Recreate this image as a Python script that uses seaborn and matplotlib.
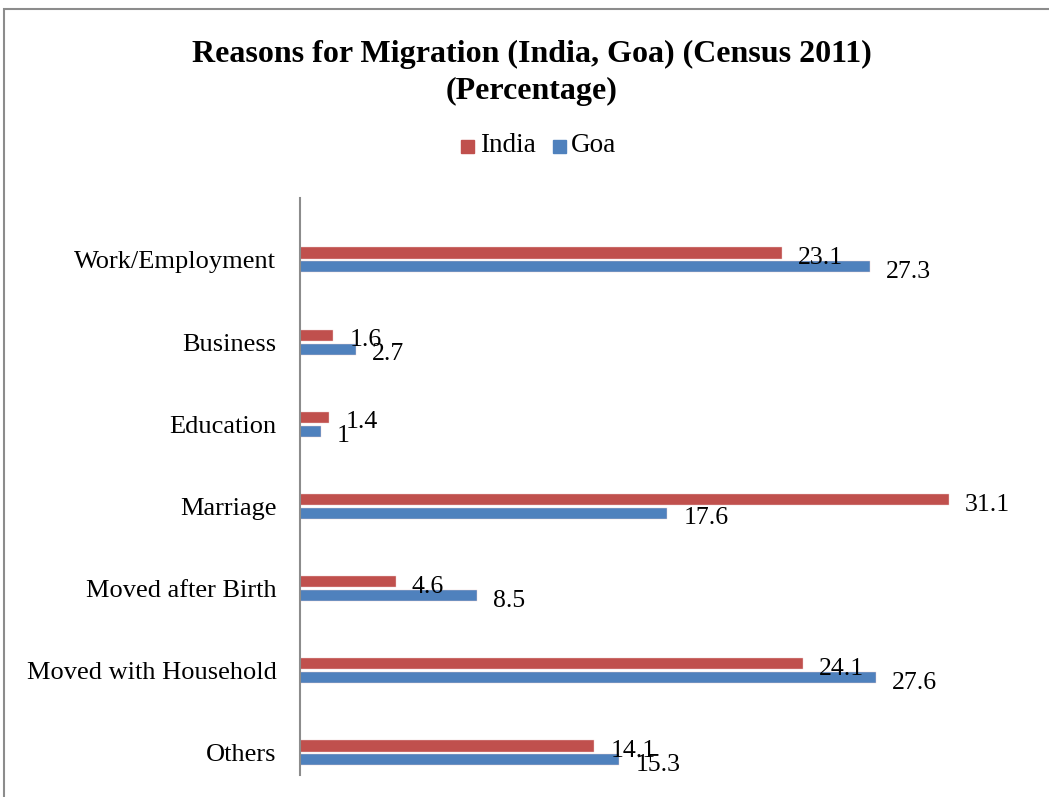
import pandas as pd
import matplotlib.pyplot as plt
import seaborn as sns
from matplotlib.patches import Rectangle

# Chart data
reasons = ['Work/Employment', 'Business', 'Education', 'Marriage',
           'Moved after Birth', 'Moved with Household', 'Others']
india = [23.1, 1.6, 1.4, 31.1, 4.6, 24.1, 14.1]
goa = [27.3, 2.7, 1, 17.6, 8.5, 27.6, 15.3]

red = '#C0504D'
blue = '#4F81BD'

df = pd.DataFrame({
    'Reason': reasons * 2,
    'Value': india + goa,
    'Region': ['India'] * len(reasons) + ['Goa'] * len(reasons),
})

sns.set_style('white')
plt.rcParams['font.family'] = ['Liberation Serif', 'DejaVu Serif']
plt.rcParams['text.color'] = 'black'
plt.rcParams['ytick.color'] = 'black'

W, H = 1049, 797
fig = plt.figure(figsize=(W / 100, H / 100), dpi=100)
ax = fig.add_axes([300 / W, (H - 775) / H, (1040 - 300) / W, (775 - 198) / H])

sns.barplot(data=df, y='Reason', x='Value', hue='Region', orient='h',
            palette={'India': red, 'Goa': blue}, saturation=1,
            width=0.34, gap=0.21, ax=ax, legend=False,
            edgecolor='#f0d0d0', linewidth=0.3)

ax.set_xlim(0, 35.46)
ax.set_ylim(6.268, -0.7545)

# value labels
for cont in ax.containers:
    for bar, v in zip(cont, cont.datavalues):
        ax.annotate(f'{v:g}', (bar.get_width(), bar.get_y() + bar.get_height() / 2),
                    xytext=(16, -5), textcoords='offset pixels',
                    ha='left', va='center', fontsize=18.5, color='black')

ax.set_xlabel('')
ax.set_ylabel('')
ax.set_xticks([])
ax.tick_params(axis='y', length=0, pad=17, labelsize=19, labelcolor='black')
for s in ['top', 'right', 'bottom']:
    ax.spines[s].set_visible(False)
ax.spines['left'].set_color('#8c8c8c')
ax.spines['left'].set_linewidth(1.5)

# legend
ly = 1 - 146 / H
fig.patches.append(Rectangle((461 / W, 1 - 153 / H), 13 / W, 13 / H,
                             transform=fig.transFigure, color=red))
fig.text(480 / W, ly, 'India', fontsize=19.5, va='center', ha='left')
fig.patches.append(Rectangle((553 / W, 1 - 153 / H), 13 / W, 13 / H,
                             transform=fig.transFigure, color=blue))
fig.text(571 / W, ly, 'Goa', fontsize=19.5, va='center', ha='left')

# title
fig.text(532 / W, 1 - 73 / H,
         'Reasons for Migration (India, Goa) (Census 2011)\n(Percentage)',
         fontsize=23, fontweight='bold', ha='center', va='center',
         linespacing=1.35)

# chart frame
fig.patches.append(Rectangle((4 / W, -0.1), 1.2, 1 - 9 / H + 0.1,
                             transform=fig.transFigure, fill=False,
                             edgecolor='#8c8c8c', linewidth=1.5))

fig.savefig('out.png', dpi=100)
